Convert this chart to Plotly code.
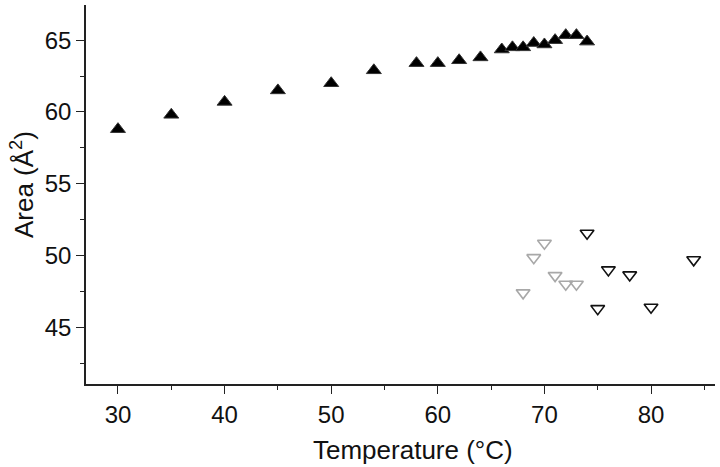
import plotly.graph_objects as go

# Filled triangles (upper series)
temp_up = [30, 35, 40, 45, 50, 54, 58, 60, 62, 64, 66, 67, 68, 69, 70, 71, 72, 73, 74]
area_up = [58.8, 59.8, 60.7, 61.5, 62.0, 62.9, 63.4, 63.4, 63.6, 63.8, 64.35, 64.5, 64.5, 64.8, 64.7, 65.0, 65.35, 65.35, 64.9]

# Open triangles, grey series
temp_grey = [68, 69, 70, 71, 72, 73]
area_grey = [47.4, 49.85, 50.85, 48.6, 48.0, 48.0]

# Open triangles, dark series
temp_dark = [74, 75, 76, 78, 80, 84]
area_dark = [51.55, 46.3, 49.0, 48.65, 46.4, 49.7]

x_ticks = [30, 40, 50, 60, 70, 80]
y_ticks = [45, 50, 55, 60, 65]
x_title = "Temperature (°C)"
y_title = "Area (Å<sup>2</sup>)"

fig = go.Figure()
fig.add_trace(go.Scatter(
    x=temp_up, y=area_up, mode="markers",
    marker=dict(symbol="triangle-up", size=13, color="#000000",
                line=dict(color="#333333", width=1)),
    showlegend=False, hoverinfo="skip"))
fig.add_trace(go.Scatter(
    x=temp_grey, y=area_grey, mode="markers",
    marker=dict(symbol="triangle-down-open", size=12, color="#a8a8a8",
                line=dict(color="#a8a8a8", width=1.6)),
    showlegend=False, hoverinfo="skip"))
fig.add_trace(go.Scatter(
    x=temp_dark, y=area_dark, mode="markers",
    marker=dict(symbol="triangle-down-open", size=12, color="#111111",
                line=dict(color="#111111", width=1.6)),
    showlegend=False, hoverinfo="skip"))

axis_common = dict(
    showline=True, linecolor="#222222", linewidth=1.5,
    ticks="outside", ticklen=8, tickwidth=1.3, tickcolor="#222222",
    showgrid=False, zeroline=False,
    tickfont=dict(size=24, color="#111111"),
)

fig.update_xaxes(
    range=[27, 86], tickvals=x_ticks,
    minor=dict(dtick=5, tick0=0, ticks="outside", ticklen=4, tickwidth=1.3, tickcolor="#222222"),
    **axis_common)
fig.update_yaxes(
    range=[41.05, 67.45], tickvals=y_ticks,
    minor=dict(dtick=2.5, tick0=0, ticks="outside", ticklen=4, tickwidth=1.3, tickcolor="#222222"),
    **axis_common)

fig.add_annotation(
    text=x_title, xref="paper", yref="paper", x=0.52, y=-0.174,
    xanchor="center", yanchor="middle", showarrow=False,
    font=dict(size=26, color="#111111"))
fig.add_annotation(
    text=y_title, xref="paper", yref="paper", x=-0.1017, y=0.525,
    xanchor="center", yanchor="middle", textangle=-90, showarrow=False,
    font=dict(size=26, color="#111111"))

fig.update_layout(
    width=720, height=467,
    margin=dict(l=86, r=5, t=5, b=83),
    paper_bgcolor="white", plot_bgcolor="white",
    font=dict(family="Liberation Sans, Arial, sans-serif"),
)

fig.write_html("out.html", config={"displayModeBar": False},
               post_script="document.body.style.margin='0';document.body.style.overflow='hidden';")
